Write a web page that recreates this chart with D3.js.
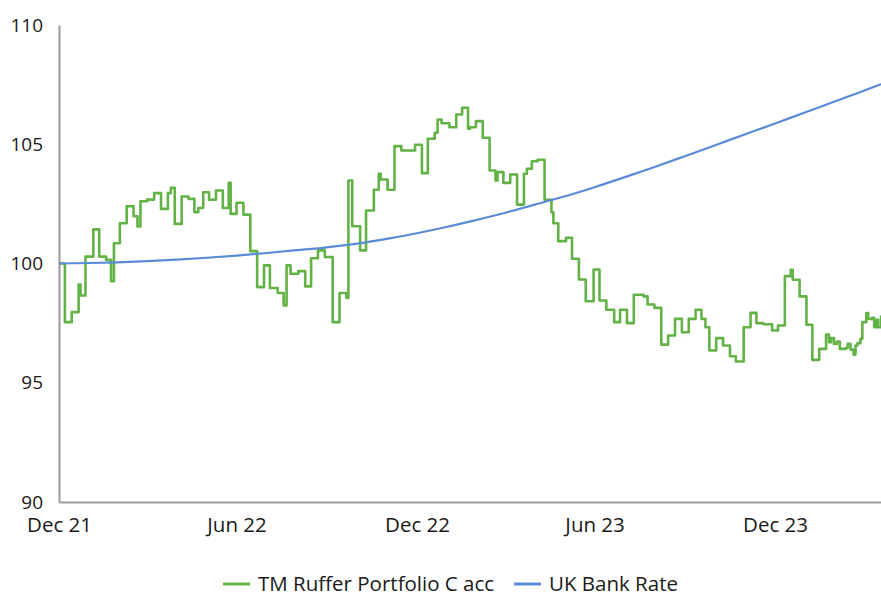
<!DOCTYPE html>
<html>
<head>
<meta charset="utf-8">
<script src="https://cdn.jsdelivr.net/npm/d3@7"></script>
<style>
  body { margin: 0; background: #fff; }
  .axis text { font-family: 'Open Sans', Lato, sans-serif; fill: #1a1a1a; }
  .y-axis text { font-size: 19px; }
  .x-axis text { font-size: 20.5px; }
  .axis path { stroke: #9a9a9a; stroke-width: 2px; }
  .legend-text { font-family: 'Open Sans', Lato, sans-serif; font-size: 20.5px; fill: #1a1a1a; }
</style>
</head>
<body>
<div id="chart"></div>
<script>
'use strict'

const WIDTH = 881
const HEIGHT = 593
const margin = { top: 25, right: 0, bottom: 91, left: 59 }

const startDate = '2021-12-31'
const endDate = '2024-04-17'
const yTicks = [90, 95, 100, 105, 110]
const xTickDates = ['2021-12-31', '2022-06-30', '2022-12-31', '2023-06-30', '2023-12-31']
const xTickLabels = ['Dec 21', 'Jun 22', 'Dec 22', 'Jun 23', 'Dec 23']

// TM Ruffer Portfolio C acc (rebased to 100)
const ruffDates = [
  '2021-12-31', '2022-01-06', '2022-01-13', '2022-01-20', '2022-01-22', '2022-01-27',
  '2022-02-04', '2022-02-10', '2022-02-17', '2022-02-22', '2022-02-25', '2022-03-03',
  '2022-03-10', '2022-03-17', '2022-03-21', '2022-03-24', '2022-03-31', '2022-04-07',
  '2022-04-14', '2022-04-21', '2022-04-24', '2022-04-28', '2022-05-05', '2022-05-12',
  '2022-05-18', '2022-05-22', '2022-05-27', '2022-06-02', '2022-06-09', '2022-06-16',
  '2022-06-22', '2022-06-24', '2022-06-30', '2022-07-07', '2022-07-14', '2022-07-21',
  '2022-07-28', '2022-08-03', '2022-08-11', '2022-08-17', '2022-08-20', '2022-08-24',
  '2022-09-01', '2022-09-08', '2022-09-14', '2022-09-21', '2022-09-28', '2022-10-06',
  '2022-10-13', '2022-10-20', '2022-10-22', '2022-10-26', '2022-11-03', '2022-11-09',
  '2022-11-17', '2022-11-22', '2022-11-24', '2022-12-01', '2022-12-08', '2022-12-15',
  '2022-12-29', '2023-01-05', '2023-01-11', '2023-01-18', '2023-01-21', '2023-01-25',
  '2023-02-02', '2023-02-09', '2023-02-15', '2023-02-21', '2023-02-23', '2023-03-01',
  '2023-03-08', '2023-03-15', '2023-03-21', '2023-03-23', '2023-03-29', '2023-04-05',
  '2023-04-12', '2023-04-19', '2023-04-22', '2023-04-27', '2023-05-03', '2023-05-10',
  '2023-05-17', '2023-05-19', '2023-05-24', '2023-06-01', '2023-06-07', '2023-06-14',
  '2023-06-21', '2023-06-29', '2023-07-05', '2023-07-12', '2023-07-20', '2023-07-26',
  '2023-08-02', '2023-08-09', '2023-08-19', '2023-08-23', '2023-08-30', '2023-09-06',
  '2023-09-13', '2023-09-20', '2023-09-27', '2023-10-04', '2023-10-11', '2023-10-17',
  '2023-10-21', '2023-10-25', '2023-11-01', '2023-11-08', '2023-11-15', '2023-11-21',
  '2023-11-29', '2023-12-06', '2023-12-12', '2023-12-19', '2023-12-28', '2024-01-03',
  '2024-01-10', '2024-01-16', '2024-01-18', '2024-01-25', '2024-02-01', '2024-02-07',
  '2024-02-14', '2024-02-21', '2024-02-24', '2024-02-26', '2024-02-29', '2024-03-03',
  '2024-03-06', '2024-03-12', '2024-03-14', '2024-03-17', '2024-03-20', '2024-03-22',
  '2024-03-24', '2024-03-27', '2024-03-29', '2024-04-02', '2024-04-04', '2024-04-08',
  '2024-04-10', '2024-04-12', '2024-04-14', '2024-04-17'
]
const ruffValues = [
  100.00, 97.54, 97.96, 99.12, 98.66, 100.29,
  101.43, 100.29, 100.15, 99.26, 100.85, 101.69,
  102.40, 101.98, 101.55, 102.61, 102.68, 102.95,
  102.29, 102.95, 103.17, 101.66, 102.81, 102.71,
  102.15, 102.33, 102.99, 102.67, 103.06, 102.33,
  103.38, 102.08, 102.55, 102.05, 100.52, 99.01,
  99.92, 98.97, 98.76, 98.24, 99.92, 99.57,
  99.68, 99.04, 100.22, 100.55, 100.27, 97.54,
  98.76, 98.56, 103.48, 101.56, 100.55, 102.22,
  103.09, 103.76, 103.52, 103.09, 104.92, 104.74,
  104.98, 103.79, 105.23, 105.48, 106.04, 105.88,
  105.71, 106.25, 106.53, 105.65, 105.71, 105.97,
  105.27, 103.90, 103.48, 103.83, 103.38, 103.73,
  102.47, 103.76, 103.97, 104.29, 104.35, 102.67,
  102.15, 101.69, 100.94, 101.08, 100.20, 99.33,
  98.42, 99.75, 98.45, 98.06, 97.54, 98.06,
  97.50, 98.69, 98.62, 98.28, 98.14, 96.60,
  96.98, 97.68, 97.12, 97.68, 98.06, 97.68,
  97.33, 96.35, 96.87, 96.56, 96.11, 95.89,
  97.33, 97.93, 97.50, 97.45, 97.19, 97.40,
  99.47, 99.74, 99.32, 98.62, 97.43, 95.96,
  96.42, 97.02, 96.70, 96.87, 96.63, 96.73,
  96.42, 96.46, 96.63, 96.39, 96.18, 96.56,
  96.66, 96.84, 97.54, 97.92, 97.68, 97.72,
  97.33, 97.64, 97.33, 97.82
]

// UK Bank Rate, cumulative (rebased to 100)
const bankDates = [
  '2021-12-31', '2022-01-31', '2022-02-28', '2022-03-31', '2022-04-30', '2022-05-31',
  '2022-06-30', '2022-07-31', '2022-08-31', '2022-09-30', '2022-10-31', '2022-11-30',
  '2022-12-31', '2023-01-31', '2023-02-28', '2023-03-31', '2023-04-30', '2023-05-31',
  '2023-06-30', '2023-07-31', '2023-08-31', '2023-09-30', '2023-10-31', '2023-11-30',
  '2023-12-31', '2024-01-31', '2024-02-29', '2024-03-31', '2024-04-17'
]
const bankValues = [
  100.00, 100.02, 100.05, 100.10, 100.16, 100.24,
  100.33, 100.44, 100.56, 100.68, 100.83, 101.03,
  101.27, 101.54, 101.81, 102.13, 102.47, 102.82,
  103.20, 103.62, 104.06, 104.50, 104.96, 105.41,
  105.87, 106.34, 106.78, 107.25, 107.52
]

const seriesNames = ['TM Ruffer Portfolio C acc', 'UK Bank Rate']
const seriesColors = ['#62b246', '#5a8bd6']

const parseDate = d3.timeParse('%Y-%m-%d')

function main () {
  const svg = d3.select('#chart')
    .append('svg')
    .attr('width', WIDTH)
    .attr('height', HEIGHT)

  const x = d3.scaleTime()
    .domain([parseDate(startDate), parseDate(endDate)])
    .range([margin.left, WIDTH - margin.right])

  const y = d3.scaleLinear()
    .domain([90, 110])
    .range([HEIGHT - margin.bottom, margin.top])

  // axes
  svg.append('g')
    .attr('class', 'axis y-axis')
    .attr('transform', `translate(${margin.left},0)`)
    .call(d3.axisLeft(y).tickValues(yTicks).tickSize(0).tickPadding(16))

  svg.append('g')
    .attr('class', 'axis x-axis')
    .attr('transform', `translate(0,${HEIGHT - margin.bottom})`)
    .call(
      d3.axisBottom(x)
        .tickValues(xTickDates.map(parseDate))
        .tickFormat((d, i) => xTickLabels[i])
        .tickSize(0)
        .tickPadding(15)
    )

  svg.selectAll('.axis .tick line').remove()

  const ruff = ruffDates.map((d, i) => ({ date: parseDate(d), value: ruffValues[i] }))
  const bank = bankDates.map((d, i) => ({ date: parseDate(d), value: bankValues[i] }))

  const stepLine = d3.line()
    .x((d) => x(d.date))
    .y((d) => y(d.value))
    .curve(d3.curveStepAfter)

  const smoothLine = d3.line()
    .x((d) => x(d.date))
    .y((d) => y(d.value))
    .curve(d3.curveMonotoneX)

  svg.append('path')
    .datum(ruff)
    .attr('fill', 'none')
    .attr('stroke', seriesColors[0])
    .attr('stroke-width', 2.6)
    .attr('stroke-linejoin', 'round')
    .attr('d', stepLine)

  svg.append('path')
    .datum(bank)
    .attr('fill', 'none')
    .attr('stroke', seriesColors[1])
    .attr('stroke-width', 2.2)
    .attr('d', smoothLine)

  // legend
  const legend = svg.append('g').attr('transform', 'translate(0,584)')
  const legendX = [223, 514]
  seriesNames.forEach((name, i) => {
    legend.append('line')
      .attr('x1', legendX[i])
      .attr('x2', legendX[i] + 27)
      .attr('y1', 0)
      .attr('y2', 0)
      .attr('stroke', seriesColors[i])
      .attr('stroke-width', 3)
    legend.append('text')
      .attr('class', 'legend-text')
      .attr('x', legendX[i] + 35)
      .attr('y', 0)
      .attr('dy', '0.35em')
      .text(name)
  })
}

main()
</script>
</body>
</html>
